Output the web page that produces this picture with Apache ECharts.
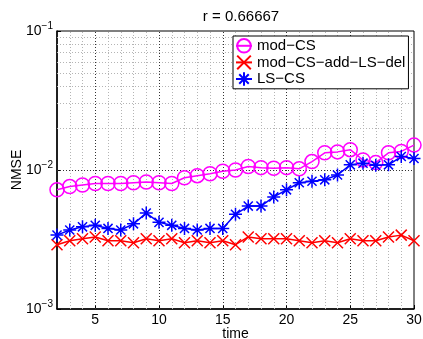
<!DOCTYPE html>
<html>
<head>
<meta charset="utf-8">
<script src="https://cdn.jsdelivr.net/npm/echarts@6/dist/echarts.min.js"></script>
<style>
  html, body { margin: 0; padding: 0; background: #fff; }
  #chart { width: 423px; height: 339px; }
</style>
</head>
<body>
<div id="chart"></div>
<script>
// values (time 2..30, log NMSE)
const times = [2, 3, 4, 5, 6, 7, 8, 9, 10, 11, 12, 13, 14, 15, 16, 17, 18, 19, 20, 21, 22, 23, 24, 25, 26, 27, 28, 29, 30];
const modCS = [0.0072, 0.0076, 0.0078, 0.0080, 0.0080, 0.0080, 0.0081, 0.0082, 0.0081, 0.0080,
  0.0088, 0.0091, 0.0094, 0.0098, 0.0100, 0.0106, 0.0104, 0.0103, 0.0104, 0.0102,
  0.0115, 0.0133, 0.0135, 0.0140, 0.0118, 0.0113, 0.0133, 0.0136, 0.0151];
const modCSAddLSDel = [0.0029, 0.0031, 0.0032, 0.0033, 0.0031, 0.0031, 0.0030, 0.0032, 0.0031, 0.0032,
  0.0030, 0.0031, 0.0030, 0.0031, 0.0029, 0.0033, 0.0032, 0.0032, 0.0032, 0.0031,
  0.0030, 0.0031, 0.0030, 0.0032, 0.0031, 0.0031, 0.0033, 0.0034, 0.0031];
const lsCS = [0.0034, 0.0037, 0.0039, 0.0040, 0.0038, 0.0037, 0.0041, 0.0049, 0.0042, 0.0040,
  0.0038, 0.0037, 0.0038, 0.0038, 0.0048, 0.0055, 0.0055, 0.0064, 0.0072, 0.0081,
  0.0083, 0.0085, 0.0092, 0.0109, 0.0112, 0.0108, 0.0109, 0.0125, 0.0121];
const seriesNames = ['mod\u2212CS', 'mod\u2212CS\u2212add\u2212LS\u2212del', 'LS\u2212CS'];
const xTicks = [5, 10, 15, 20, 25, 30];
const yMajorGrid = [0.01];
const yMinorGrid = [0.002, 0.003, 0.004, 0.005, 0.006, 0.007, 0.008, 0.009,
  0.02, 0.03, 0.04, 0.05, 0.06, 0.07, 0.08, 0.09];

const font = "'Liberation Sans', Arial, Helvetica, sans-serif";
const xMajorGrid = xTicks.filter((t) => t < 30);
const xMinorGrid = times.filter((t) => t > 2 && t < 30 && t % 5 !== 0);

const minorLine = { color: '#b4b4b4', width: 1, type: [1, 2] };
const majorLine = { color: '#333', width: 1, type: [1, 2] };

const pairs = (ys) => times.map((t, i) => [t, ys[i]]);

const crossPath = 'path://M0,0L10,10M10,0L0,10';
const starPath = 'path://M5,0L5,10M0,5L10,5M1.5,1.5L8.5,8.5M8.5,1.5L1.5,8.5';

const chart = echarts.init(document.getElementById('chart'));

const option = {
  backgroundColor: '#fff',
  animation: false,
  textStyle: { fontFamily: font },
  title: {
    text: 'r = 0.66667',
    left: 236,
    top: 4,
    textAlign: 'center',
    textStyle: { fontSize: 15, fontWeight: 'normal', color: '#000', fontFamily: font },
  },
  grid: {
    left: 57, right: 9, top: 31, bottom: 30,
    outerBoundsMode: 'none',
    containLabel: false,
    show: true, backgroundColor: '#fff', borderColor: '#000', borderWidth: 1,
  },
  legend: {
    data: seriesNames,
    orient: 'vertical',
    left: 233,
    top: 36,
    padding: [2, 3, 2, 2],
    itemGap: 1,
    itemWidth: 16,
    itemHeight: 17,
    selectedMode: false,
    backgroundColor: '#fff',
    borderColor: '#000',
    borderWidth: 1,
    borderRadius: 0,
    textStyle: { fontSize: 15, color: '#000', fontFamily: font },
  },
  xAxis: {
    type: 'value',
    min: 2,
    max: 30,
    name: 'time',
    nameLocation: 'middle',
    nameGap: 18,
    nameMoveOverlap: false,
    nameTextStyle: { fontSize: 14, color: '#000', fontFamily: font },
    axisLine: { onZero: false, lineStyle: { color: '#000', width: 1.5 } },
    axisTick: { inside: true, length: 4, customValues: xTicks, lineStyle: { color: '#000' } },
    axisLabel: { customValues: xTicks, fontSize: 14, color: '#000', margin: 4, fontFamily: font },
    splitLine: { show: false },
  },
  yAxis: {
    type: 'log',
    logBase: 10,
    min: 0.001,
    max: 0.1,
    name: 'NMSE',
    nameLocation: 'middle',
    nameGap: 33,
    nameMoveOverlap: false,
    nameTextStyle: { fontSize: 14, color: '#000', fontFamily: font },
    axisLine: { lineStyle: { color: '#000', width: 1.5 } },
    axisTick: { inside: true, length: 4, lineStyle: { color: '#000' } },
    axisLabel: {
      margin: 4,
      formatter: (v) => {
        const e = Math.round(Math.log10(v));
        return '{b|10}{e|' + (e < 0 ? '\u2212' + (-e) : e) + '}';
      },
      rich: {
        b: { fontSize: 14, color: '#000', fontFamily: font },
        e: { fontSize: 10, color: '#000', fontFamily: font, padding: [0, 0, 10, 0] },
      },
    },
    splitLine: { show: false },
  },
  series: [
    {
      name: 'grid',
      type: 'line',
      data: [],
      silent: true,
      z: 1,
      markLine: {
        silent: true,
        symbol: 'none',
        z: 1,
        label: { show: false },
        emphasis: { disabled: true },
        data: [
          ...xMinorGrid.map((v) => ({ xAxis: v, lineStyle: minorLine })),
          ...yMinorGrid.map((v) => ({ yAxis: v, lineStyle: minorLine })),
          ...xMajorGrid.map((v) => ({ xAxis: v, lineStyle: majorLine })),
          ...yMajorGrid.map((v) => ({ yAxis: v, lineStyle: majorLine })),
        ],
      },
    },
    {
      name: seriesNames[0],
      type: 'line',
      data: pairs(modCS),
      symbol: 'circle',
      symbolSize: 14,
      lineStyle: { color: '#ff00ff', width: 1.5 },
      itemStyle: { color: 'rgba(0,0,0,0)', borderColor: '#ff00ff', borderWidth: 1.5 },
      emphasis: { disabled: true },
    },
    {
      name: seriesNames[1],
      type: 'line',
      data: pairs(modCSAddLSDel),
      symbol: crossPath,
      symbolSize: 11,
      lineStyle: { color: '#ff0000', width: 1.5 },
      itemStyle: { color: '#ff0000', borderColor: '#ff0000', borderWidth: 1.5 },
      emphasis: { disabled: true },
    },
    {
      name: seriesNames[2],
      type: 'line',
      data: pairs(lsCS),
      symbol: starPath,
      symbolSize: 13,
      lineStyle: { color: '#0000ff', width: 1.5 },
      itemStyle: { color: '#0000ff', borderColor: '#0000ff', borderWidth: 1.5 },
      emphasis: { disabled: true },
    },
  ],
};

chart.setOption(option);
</script>
</body>
</html>
